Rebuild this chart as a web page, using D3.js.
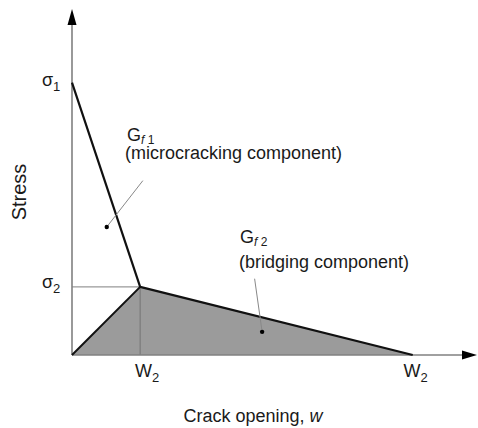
<!DOCTYPE html>
<html><head><meta charset="utf-8">
<script src="https://cdn.jsdelivr.net/npm/d3@7"></script>
<style>body{margin:0;background:#fff}svg{display:block}text{font-family:"Liberation Sans",Arial,sans-serif;fill:#1a1a1a}</style>
</head><body>
<script>
// Tension-softening (bilinear) curve, normalized units
const curveW = [0, 1, 5];          // crack opening at σ1, kink, end
const curveS = [1, 0.25, 0];       // stress values
const sigmaLabels = ["1", "2"];    // σ subscripts
const wLabels = ["2", "2"];        // W subscripts (as in source)
const xMax = 5.87, yMax = 1.27;
const dots = [{w:0.51, s:0.47, lw:1.04, ls:0.64}, {w:2.79, s:0.085, lw:2.68, ls:0.28}];

const W = 478, H = 428;
const svg = d3.select("body").append("svg").attr("width", W).attr("height", H);
const x = d3.scaleLinear().domain([0, xMax]).range([72, 472]);
const y = d3.scaleLinear().domain([0, yMax]).range([355, 9]);

// shaded bridging component
const kink = [curveW[1], curveS[1]];
svg.append("path")
  .attr("d", d3.line()([[x(0), y(0)], [x(kink[0]), y(kink[1])], [x(curveW[2]), y(0)]]) + "Z")
  .attr("fill", "#9b9b9b");

// gray guide lines
svg.append("line").attr("x1", x(0)).attr("x2", x(kink[0])).attr("y1", y(kink[1])).attr("y2", y(kink[1]))
  .attr("stroke", "#999").attr("stroke-width", 1.2);
svg.append("line").attr("x1", x(kink[0])).attr("x2", x(kink[0])).attr("y1", y(kink[1])).attr("y2", y(0))
  .attr("stroke", "#7a7a7a").attr("stroke-width", 1.2);

// axes
svg.append("line").attr("x1", x(0)).attr("x2", x(0)).attr("y1", y(0)).attr("y2", y(yMax) + 10)
  .attr("stroke", "#808080").attr("stroke-width", 1.6);
svg.append("line").attr("x1", x(0)).attr("x2", x(xMax) - 6).attr("y1", y(0)).attr("y2", y(0))
  .attr("stroke", "#808080").attr("stroke-width", 1.6);
svg.append("path").attr("d", `M${x(0)},${y(yMax)} L${x(0)-4.5},${y(yMax)+16} L${x(0)+4.5},${y(yMax)+16}Z`).attr("fill", "#000");
svg.append("path").attr("d", `M${x(xMax)+5},${y(0)} L${x(xMax)-10},${y(0)-4.5} L${x(xMax)-10},${y(0)+4.5}Z`).attr("fill", "#000");

// black curve lines
const line = d3.line().x(d => x(d[0])).y(d => y(d[1]));
svg.append("path").attr("d", line(curveW.map((w, i) => [w, curveS[i]])))
  .attr("fill", "none").attr("stroke", "#111").attr("stroke-width", 2.2).attr("stroke-linejoin", "round");
svg.append("path").attr("d", line([[0, 0], kink]))
  .attr("fill", "none").attr("stroke", "#111").attr("stroke-width", 2);

// leader lines + dots
dots.forEach(d => {
  svg.append("line").attr("x1", x(d.w)).attr("y1", y(d.s)).attr("x2", x(d.lw)).attr("y2", y(d.ls))
    .attr("stroke", "#888").attr("stroke-width", 1);
  svg.append("circle").attr("cx", x(d.w)).attr("cy", y(d.s)).attr("r", 2.2).attr("fill", "#000");
});

// labels
function sub(t, base, s, px, py, anchor) {
  const tx = t.append("text").attr("x", px).attr("y", py).attr("font-size", 18).attr("text-anchor", anchor || "start");
  tx.append("tspan").text(base);
  tx.append("tspan").attr("dy", 5).attr("font-size", 13).text(s);
  return tx;
}
// sigma labels
sub(svg, "σ", sigmaLabels[0], 42, y(curveS[0]) + 3);
sub(svg, "σ", sigmaLabels[1], 42, y(curveS[1]) + 1);
// W labels
sub(svg, "W", wLabels[0], x(curveW[1]) + 7, 377, "middle");
sub(svg, "W", wLabels[1], x(curveW[2]) + 3, 377, "middle");

// G_f1
let g1 = svg.append("text").attr("x", 127).attr("y", 141).attr("font-size", 18);
g1.append("tspan").text("G");
g1.append("tspan").attr("dy", 3).attr("font-size", 12).attr("font-style", "italic").text("f");
g1.append("tspan").attr("font-size", 12).text(" 1");
svg.append("text").attr("x", 125).attr("y", 159).attr("font-size", 18).text("(microcracking component)");

// G_f2
let g2 = svg.append("text").attr("x", 240).attr("y", 243).attr("font-size", 18);
g2.append("tspan").text("G");
g2.append("tspan").attr("dy", 3).attr("font-size", 12).attr("font-style", "italic").text("f");
g2.append("tspan").attr("font-size", 12).text(" 2");
svg.append("text").attr("x", 239).attr("y", 268).attr("font-size", 18).text("(bridging component)");

// axis titles
svg.append("text").attr("transform", "translate(26,192) rotate(-90)").attr("text-anchor", "middle")
  .attr("font-size", 20).text("Stress");
const xt = svg.append("text").attr("x", 253).attr("y", 422).attr("text-anchor", "middle").attr("font-size", 18);
xt.append("tspan").text("Crack opening, ");
xt.append("tspan").attr("font-style", "italic").text("w");
</script>
</body></html>
